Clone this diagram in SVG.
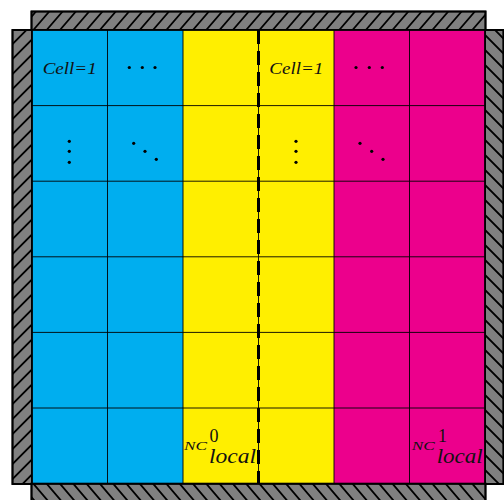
<svg xmlns="http://www.w3.org/2000/svg" width="504" height="500" viewBox="0 0 504 500">
  <defs>
    <clipPath id="cTop"><rect x="31.5" y="11.5" width="454" height="18.5"/></clipPath>
    <clipPath id="cLeft"><rect x="12.5" y="30" width="19.5" height="454"/></clipPath>
    <clipPath id="cRight"><rect x="485" y="30" width="18.5" height="454"/></clipPath>
    <clipPath id="cBottom"><rect x="31.5" y="483.6" width="454" height="20"/></clipPath>
  </defs>
  <style>
    .wall { stroke: #000; stroke-width: 1.8; fill: #808080; }
    .edge { stroke: #000; stroke-width: 1.8; fill: none; }
    .hatch { stroke: #000; stroke-width: 1.8; fill: none; }
    .grid { stroke: #000; stroke-width: 0.9; fill: none; }
    .lbl { font-family: "Liberation Serif", "DejaVu Serif", serif; font-style: italic; fill: #111; }
    .num { font-family: "Liberation Serif", "DejaVu Serif", serif; fill: #111; }
    .dot { fill: #000; }
  </style>
  <rect width="504" height="500" fill="#fff"/>

  <g id="walls">
    <g id="wall-top">
      <rect class="wall" x="31.5" y="11.5" width="454" height="18.5"/>
      <g clip-path="url(#cTop)" class="hatch">
        <path d="M20,30 l16,-18.5 M33.3,30 l16,-18.5 M46.6,30 l16,-18.5 M59.9,30 l16,-18.5 M73.2,30 l16,-18.5 M86.5,30 l16,-18.5 M99.8,30 l16,-18.5 M113.1,30 l16,-18.5 M126.4,30 l16,-18.5 M139.7,30 l16,-18.5 M153,30 l16,-18.5 M166.3,30 l16,-18.5 M179.6,30 l16,-18.5 M192.9,30 l16,-18.5 M206.2,30 l16,-18.5 M219.5,30 l16,-18.5 M232.8,30 l16,-18.5 M246.1,30 l16,-18.5 M259.4,30 l16,-18.5 M272.7,30 l16,-18.5 M286,30 l16,-18.5 M299.3,30 l16,-18.5 M312.6,30 l16,-18.5 M325.9,30 l16,-18.5 M339.2,30 l16,-18.5 M352.5,30 l16,-18.5 M365.8,30 l16,-18.5 M379.1,30 l16,-18.5 M392.4,30 l16,-18.5 M405.7,30 l16,-18.5 M419,30 l16,-18.5 M432.3,30 l16,-18.5 M445.6,30 l16,-18.5 M458.9,30 l16,-18.5 M472.2,30 l16,-18.5"/>
      </g>
      <rect class="edge" x="31.5" y="11.5" width="454" height="18.5"/>
    </g>
    <g id="wall-left">
      <rect class="wall" x="12.5" y="30" width="19.5" height="454"/>
      <g clip-path="url(#cLeft)" class="hatch">
        <path d="M12.5,44 l19.5,-19.5 M12.5,59 l19.5,-19.5 M12.5,74 l19.5,-19.5 M12.5,89 l19.5,-19.5 M12.5,104 l19.5,-19.5 M12.5,119 l19.5,-19.5 M12.5,134 l19.5,-19.5 M12.5,149 l19.5,-19.5 M12.5,164 l19.5,-19.5 M12.5,179 l19.5,-19.5 M12.5,194 l19.5,-19.5 M12.5,209 l19.5,-19.5 M12.5,224 l19.5,-19.5 M12.5,239 l19.5,-19.5 M12.5,254 l19.5,-19.5 M12.5,269 l19.5,-19.5 M12.5,284 l19.5,-19.5 M12.5,299 l19.5,-19.5 M12.5,314 l19.5,-19.5 M12.5,329 l19.5,-19.5 M12.5,344 l19.5,-19.5 M12.5,359 l19.5,-19.5 M12.5,374 l19.5,-19.5 M12.5,389 l19.5,-19.5 M12.5,404 l19.5,-19.5 M12.5,419 l19.5,-19.5 M12.5,434 l19.5,-19.5 M12.5,449 l19.5,-19.5 M12.5,464 l19.5,-19.5 M12.5,479 l19.5,-19.5 M12.5,494 l19.5,-19.5 M12.5,509 l19.5,-19.5"/>
      </g>
      <rect class="edge" x="12.5" y="30" width="19.5" height="454"/>
    </g>
    <g id="wall-right">
      <rect class="wall" x="485" y="30" width="18.5" height="454"/>
      <g clip-path="url(#cRight)" class="hatch">
        <path d="M485,20 l18.5,18.5 M485,35 l18.5,18.5 M485,50 l18.5,18.5 M485,65 l18.5,18.5 M485,80 l18.5,18.5 M485,95 l18.5,18.5 M485,110 l18.5,18.5 M485,125 l18.5,18.5 M485,140 l18.5,18.5 M485,155 l18.5,18.5 M485,170 l18.5,18.5 M485,185 l18.5,18.5 M485,200 l18.5,18.5 M485,215 l18.5,18.5 M485,230 l18.5,18.5 M485,245 l18.5,18.5 M485,260 l18.5,18.5 M485,275 l18.5,18.5 M485,290 l18.5,18.5 M485,305 l18.5,18.5 M485,320 l18.5,18.5 M485,335 l18.5,18.5 M485,350 l18.5,18.5 M485,365 l18.5,18.5 M485,380 l18.5,18.5 M485,395 l18.5,18.5 M485,410 l18.5,18.5 M485,425 l18.5,18.5 M485,440 l18.5,18.5 M485,455 l18.5,18.5 M485,470 l18.5,18.5"/>
      </g>
      <rect class="edge" x="485" y="30" width="18.5" height="454"/>
    </g>
    <g id="wall-bottom">
      <rect class="wall" x="31.5" y="483.6" width="454" height="20"/>
      <g clip-path="url(#cBottom)" class="hatch">
        <path d="M20,483.6 l17,20 M33.3,483.6 l17,20 M46.6,483.6 l17,20 M59.9,483.6 l17,20 M73.2,483.6 l17,20 M86.5,483.6 l17,20 M99.8,483.6 l17,20 M113.1,483.6 l17,20 M126.4,483.6 l17,20 M139.7,483.6 l17,20 M153,483.6 l17,20 M166.3,483.6 l17,20 M179.6,483.6 l17,20 M192.9,483.6 l17,20 M206.2,483.6 l17,20 M219.5,483.6 l17,20 M232.8,483.6 l17,20 M246.1,483.6 l17,20 M259.4,483.6 l17,20 M272.7,483.6 l17,20 M286,483.6 l17,20 M299.3,483.6 l17,20 M312.6,483.6 l17,20 M325.9,483.6 l17,20 M339.2,483.6 l17,20 M352.5,483.6 l17,20 M365.8,483.6 l17,20 M379.1,483.6 l17,20 M392.4,483.6 l17,20 M405.7,483.6 l17,20 M419,483.6 l17,20 M432.3,483.6 l17,20 M445.6,483.6 l17,20 M458.9,483.6 l17,20 M472.2,483.6 l17,20"/>
      </g>
      <rect class="edge" x="31.5" y="483.6" width="454" height="20"/>
    </g>
  </g>

  <g id="domain">
    <rect x="32" y="30" width="151" height="453.6" fill="#00AEEF"/>
    <rect x="183" y="30" width="151" height="453.6" fill="#FFEF00"/>
    <rect x="334" y="30" width="151" height="453.6" fill="#EC008C"/>
  </g>

  <g id="gridlines" class="grid">
    <line x1="107.5" y1="30" x2="107.5" y2="483.6"/>
    <line x1="183" y1="30" x2="183" y2="483.6"/>
    <line x1="258.5" y1="30" x2="258.5" y2="483.6"/>
    <line x1="334" y1="30" x2="334" y2="483.6"/>
    <line x1="409.5" y1="30" x2="409.5" y2="483.6"/>
    <line x1="32" y1="105.6" x2="485" y2="105.6"/>
    <line x1="32" y1="181.2" x2="485" y2="181.2"/>
    <line x1="32" y1="256.8" x2="485" y2="256.8"/>
    <line x1="32" y1="332.4" x2="485" y2="332.4"/>
    <line x1="32" y1="408" x2="485" y2="408"/>
    <rect x="32" y="30" width="453" height="453.6" stroke-width="1.8"/>
  </g>

  <g id="connectors">
    <line x1="258.5" y1="30" x2="258.5" y2="483.6" stroke="#000" stroke-width="3" stroke-dasharray="14 7"/>
  </g>

  <g id="labels-left">
    <text class="lbl" x="42.7" y="73.5" font-size="16" textLength="54" lengthAdjust="spacingAndGlyphs">Cell=1</text>
    <circle class="dot" cx="129.3" cy="67.5" r="1.6"/>
    <circle class="dot" cx="142.3" cy="67.5" r="1.6"/>
    <circle class="dot" cx="155" cy="67.5" r="1.6"/>
    <circle class="dot" cx="69.3" cy="141.3" r="1.6"/>
    <circle class="dot" cx="69.3" cy="151.3" r="1.6"/>
    <circle class="dot" cx="69.3" cy="162.3" r="1.6"/>
    <circle class="dot" cx="133.7" cy="143.3" r="1.6"/>
    <circle class="dot" cx="145" cy="151.3" r="1.6"/>
    <circle class="dot" cx="156.3" cy="159.3" r="1.6"/>
    <text class="lbl" x="184" y="449.5" font-size="13" textLength="23" lengthAdjust="spacingAndGlyphs">NC</text>
    <text class="num" x="209.5" y="442" font-size="18">0</text>
    <text class="lbl" x="209" y="463" font-size="20" textLength="47" lengthAdjust="spacingAndGlyphs">local</text>
  </g>

  <g id="labels-right">
    <text class="lbl" x="269.3" y="73.5" font-size="16" textLength="54" lengthAdjust="spacingAndGlyphs">Cell=1</text>
    <circle class="dot" cx="356" cy="67.5" r="1.6"/>
    <circle class="dot" cx="369.3" cy="67.5" r="1.6"/>
    <circle class="dot" cx="382.3" cy="67.5" r="1.6"/>
    <circle class="dot" cx="296" cy="141.3" r="1.6"/>
    <circle class="dot" cx="296" cy="151.3" r="1.6"/>
    <circle class="dot" cx="296" cy="162.3" r="1.6"/>
    <circle class="dot" cx="360" cy="143.3" r="1.6"/>
    <circle class="dot" cx="371.7" cy="151.3" r="1.6"/>
    <circle class="dot" cx="383" cy="159.3" r="1.6"/>
    <text class="lbl" x="411.7" y="449.5" font-size="13" textLength="23" lengthAdjust="spacingAndGlyphs">NC</text>
    <text class="num" x="438" y="442" font-size="18">1</text>
    <text class="lbl" x="436.7" y="463" font-size="20" textLength="46" lengthAdjust="spacingAndGlyphs">local</text>
  </g>
</svg>
